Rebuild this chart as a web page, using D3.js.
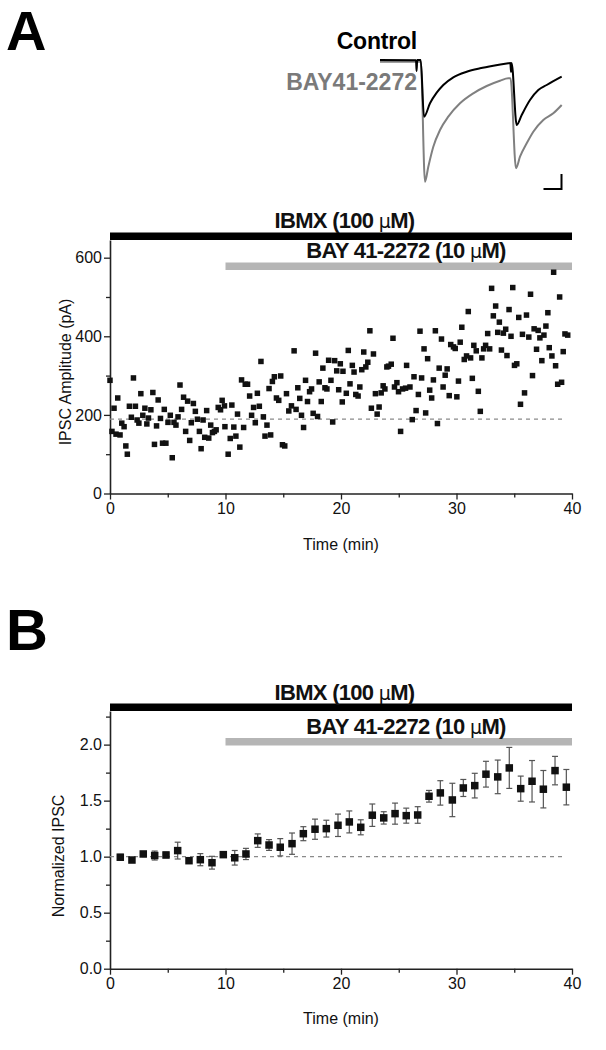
<!DOCTYPE html>
<html><head><meta charset="utf-8">
<script src="https://cdn.jsdelivr.net/npm/d3@7"></script>
<style>
html,body{margin:0;padding:0;background:#fff;}
svg{display:block;}
text{font-family:"Liberation Sans",Arial,sans-serif;}
</style>
</head><body>
<svg id="c" width="606" height="1050"></svg>
<script>
// ---------- DATA ----------
// Panel A: individual IPSC amplitudes (time in min, amplitude in pA)
const timeA = [0.0,0.17,0.35,0.52,0.67,0.87,1.02,1.22,1.37,1.50,1.68,1.85,2.03,2.20,2.35,2.50,2.67,2.84,3.02,3.19,3.33,3.54,3.71,3.85,4.03,4.17,4.37,4.55,4.70,4.84,5.02,5.22,5.39,5.54,5.71,5.89,6.06,6.20,6.37,6.55,6.72,6.90,7.04,7.22,7.39,7.57,7.74,7.89,8.06,8.20,8.37,8.55,8.72,8.87,9.04,9.19,9.37,9.57,9.71,9.91,9.95,
10.23,10.41,10.55,10.72,10.90,11.04,11.24,11.39,11.57,11.71,11.91,12.09,12.26,12.43,12.58,12.76,12.93,13.07,13.28,13.42,13.59,13.77,13.91,14.06,14.23,14.41,14.61,14.78,14.93,15.13,15.28,15.48,15.71,15.94,16.11,16.26,16.43,16.58,16.76,16.93,17.10,17.28,17.45,17.59,17.80,17.97,18.11,18.29,18.43,18.61,18.78,18.93,19.13,19.28,19.45,19.63,19.80,19.94,20.11,20.17,
20.46,20.63,20.78,20.98,21.13,21.28,21.48,21.63,21.80,21.97,22.15,22.32,22.50,22.63,22.81,22.98,23.13,23.30,23.48,23.65,23.80,23.97,24.11,24.35,24.50,24.63,24.84,24.98,25.16,25.33,25.59,25.68,25.97,26.17,26.32,26.50,26.70,26.84,26.98,27.19,27.33,27.50,27.68,27.85,28.00,28.17,28.35,28.50,28.70,28.84,29.02,29.19,29.37,29.50,29.74,29.89,30.03,30.17,30.32,30.46,
30.67,30.87,31.02,31.22,31.37,31.50,31.71,31.89,32.06,32.20,32.35,32.52,32.70,32.87,33.04,33.19,33.39,33.57,33.71,33.89,34.06,34.26,34.37,34.55,34.72,34.87,35.02,35.22,35.39,35.54,35.71,35.89,36.06,36.26,36.41,36.58,36.72,36.93,37.07,37.22,37.39,37.57,37.74,37.91,38.03,38.26,38.41,38.58,38.76,38.93,39.10,39.24,39.39,39.63];
const ampA = [288,158,217,151,243,149,179,170,121,100,222,194,294,222,187,179,254,199,217,177,192,213,257,125,172,238,191,128,214,128,181,199,91,181,174,195,276,214,245,158,235,135,180,229,209,189,158,114,187,143,211,141,174,155,158,162,219,213,237,223,170,
100,140,225,169,146,202,118,289,168,278,278,248,199,219,180,255,222,336,195,146,174,267,149,285,297,243,237,299,124,121,254,210,223,363,214,269,242,199,168,288,234,259,266,204,357,196,284,234,319,269,266,339,288,182,338,312,264,330,233,311,
255,364,279,326,309,252,248,271,315,360,322,334,414,217,355,254,202,220,256,274,266,322,324,329,395,271,282,259,158,266,268,326,271,188,297,211,252,413,294,368,205,343,263,243,289,414,178,319,393,271,301,317,249,379,373,369,246,286,385,423,
341,350,463,345,293,377,363,260,209,345,368,377,407,368,522,452,477,410,436,365,408,418,351,468,400,524,326,330,448,227,405,256,454,398,507,300,419,367,415,396,338,403,426,460,371,350,563,325,278,500,283,361,406,403];
const baselineA = 189;   // dashed reference (pA)

// Panel B: normalized IPSC (mean ± SEM), 1-min bins
const timeB = [0.89,1.90,2.88,3.87,4.85,5.86,6.84,7.82,8.83,9.81,10.80,11.77,12.79,13.77,14.74,15.76,16.74,17.75,18.73,19.74,20.72,21.71,22.71,23.70,24.68,25.65,26.64,27.62,28.60,29.64,30.59,31.58,32.55,33.57,34.57,35.56,36.54,37.52,38.53,39.51];
const normB = [0.995,0.97,1.024,1.01,1.015,1.054,0.964,0.973,0.946,1.018,0.99,1.024,1.143,1.104,1.084,1.116,1.205,1.245,1.25,1.28,1.31,1.262,1.37,1.346,1.384,1.366,1.372,1.539,1.569,1.506,1.613,1.634,1.736,1.712,1.792,1.607,1.673,1.602,1.768,1.62];
const semB = [0.025,0.02,0.02,0.04,0.025,0.075,0.02,0.054,0.057,0.02,0.065,0.05,0.06,0.048,0.077,0.095,0.0625,0.09,0.075,0.10,0.098,0.067,0.10,0.055,0.094,0.067,0.074,0.052,0.109,0.149,0.076,0.11,0.115,0.15,0.183,0.112,0.185,0.167,0.127,0.158];
const baselineB = 1.0;

// Axis ticks
const xTicks = [0,10,20,30,40], xMinor = [5,15,25,35];
const yTicksA = [0,200,400,600], yMinorA = [100,300,500];
const yTicksB = [0,0.5,1.0,1.5,2.0], yMinorB = [0.25,0.75,1.25,1.75,2.25];

// Drug application bars (min)
const drugLabels = ["IBMX (100 ", "BAY 41-2272 (10 "];
const drugStart = [0, 10];
const drugEnd = [40, 40];

// Example traces (time in ms, current in pA)
const traceControl = [[0,0],[36,-3],[36.6,-110],[37.2,0],[40.7,0],[44,-567],[50,-433],[56.7,-327],[63.3,-250],[73.3,-173],[86.7,-117],[100,-83],[113.3,-57],[128.3,-33],[130.4,-30],[131,-120],[131.6,-30],[136.7,-650],[141.7,-550],[150,-400],[158.3,-300],[166.7,-250],[181.7,-167]];
const traceBAY = [[0,-17],[40.8,-17],[45,-1217],[48.3,-1067],[53.3,-867],[60,-700],[68.3,-567],[80,-433],[93.3,-333],[106.7,-260],[120,-207],[128.3,-183],[130.5,-183],[136,-1083],[140,-967],[146.7,-833],[153.3,-717],[163.3,-600],[173.3,-533],[181.7,-450]];
const scaleBarMs = 18, scaleBarPA = 150;

// ---------- DRAW ----------
const svg = d3.select("#c");
const FONT = '"Liberation Sans",Arial,sans-serif';

// panel letters
svg.append("text").attr("x",6).attr("y",50).attr("font-size",56).attr("font-weight","bold").text("A");
svg.append("text").attr("x",6).attr("y",650).attr("font-size",58).attr("font-weight","bold").text("B");

// ---- traces ----
const xT = d3.scaleLinear([0,182],[380,562]);
const yT = d3.scaleLinear([0,-1300],[60,190]);
const tline = d3.line().x(d=>xT(d[0])).y(d=>yT(d[1])).curve(d3.curveMonotoneX);
svg.append("path").attr("d",tline(traceBAY)).attr("fill","none").attr("stroke","#808080").attr("stroke-width",2);
svg.append("path").attr("d",tline(traceControl)).attr("fill","none").attr("stroke","#000").attr("stroke-width",2);
svg.append("text").attr("x",417).attr("y",49).attr("text-anchor","end").attr("font-size",23).attr("font-weight","bold").attr("letter-spacing",-0.2).text("Control");
svg.append("text").attr("x",417).attr("y",90).attr("text-anchor","end").attr("font-size",23).attr("font-weight","bold").attr("fill","#7a7a7a").text("BAY41-2272");
// scale bar
const sbx = 181.5, sby = -1140;
svg.append("path").attr("fill","none").attr("stroke","#000").attr("stroke-width",2)
  .attr("d",`M${xT(sbx)},${yT(sby)} V${yT(sby-scaleBarPA)} H${xT(sbx-scaleBarMs)}`);

// ---- generic panel ----
function panel(cfg){
  const g = svg.append("g");
  g.append("g").attr("transform",`translate(0,${cfg.y.range()[0]})`)
    .call(d3.axisBottom(cfg.x).tickValues(xTicks).tickSize(6).tickSizeOuter(0).tickPadding(3).tickFormat(d3.format("d")));
  g.append("g").attr("transform",`translate(0,${cfg.y.range()[0]})`)
    .call(d3.axisBottom(cfg.x).tickValues(xMinor).tickSize(4).tickFormat("")).select(".domain").remove();
  g.append("g").attr("transform",`translate(${cfg.x.range()[0]},0)`)
    .call(d3.axisLeft(cfg.y).tickValues(cfg.yTicks).tickSize(6).tickSizeOuter(0).tickPadding(2).tickFormat(cfg.fmt));
  g.append("g").attr("transform",`translate(${cfg.x.range()[0]},0)`)
    .call(d3.axisLeft(cfg.y).tickValues(cfg.yMinor).tickSize(4).tickFormat("")).select(".domain").remove();
  g.selectAll(".domain").attr("stroke","#222").attr("stroke-width",1.6);
  g.selectAll(".tick line").attr("stroke","#222").attr("stroke-width",1.3);
  g.selectAll(".tick text").attr("font-size",16).attr("font-family",FONT).attr("fill","#111");
  // axis titles
  g.append("text").attr("x",(cfg.x.range()[0]+cfg.x.range()[1])/2).attr("y",cfg.xTitleY)
    .attr("text-anchor","middle").attr("font-size",16).attr("fill","#111").text("Time (min)");
  g.append("text").attr("transform",`translate(${cfg.yTitleX},${cfg.yTitleY}) rotate(-90)`)
    .attr("text-anchor","middle").attr("font-size",16).attr("fill","#111").text(cfg.yTitle);
  // dashed baseline
  g.append("line").attr("x1",cfg.x(0)).attr("x2",cfg.x(39.3)).attr("y1",cfg.y(cfg.base)).attr("y2",cfg.y(cfg.base))
    .attr("stroke","#8a8a8a").attr("stroke-width",1.2).attr("stroke-dasharray","4,4");
  // drug bars
  const barColors = ["#000","#b5b5b5"];
  drugLabels.forEach((lab,i)=>{
    g.append("rect").attr("x",cfg.x(drugStart[i])).attr("width",cfg.x(drugEnd[i])-cfg.x(drugStart[i]))
      .attr("y",cfg.barY[i]).attr("height",7.5).attr("fill",barColors[i]);
    const t = g.append("text").attr("x",cfg.labX[i]).attr("y",cfg.labY[i]).attr("text-anchor","middle")
      .attr("font-size",22).attr("font-weight","bold").attr("letter-spacing",-0.7).attr("fill","#111");
    t.append("tspan").text(lab);
    t.append("tspan").attr("font-weight","normal").attr("font-size",19).attr("font-family","DejaVu Sans").text("\u03BC");
    t.append("tspan").text("M)");
  });
  return g;
}

// Panel A
const xA = d3.scaleLinear([0,40],[110,572]);
const yA = d3.scaleLinear([0,645],[493.5,240]);
const gA = panel({x:xA,y:yA,yTicks:yTicksA,yMinor:yMinorA,fmt:d3.format("d"),
  xTitleY:550,yTitleX:71,yTitleY:372,yTitle:"IPSC Amplitude (pA)",base:baselineA,
  barY:[232.5,262.5],labX:[344.5,406],labY:[228,257.5]});
const sA = 5.5;
gA.selectAll("rect.pt").data(timeA).join("rect").attr("class","pt")
  .attr("x",(d,i)=>xA(d)-sA/2).attr("y",(d,i)=>yA(ampA[i])-sA/2).attr("width",sA).attr("height",sA).attr("fill","#111");

// Panel B
const xB = d3.scaleLinear([0,40],[110,572]);
const yB = d3.scaleLinear([0,2.3],[968.7,711]);
const gB = panel({x:xB,y:yB,yTicks:yTicksB,yMinor:yMinorB,fmt:d3.format(".1f"),
  xTitleY:1024,yTitleX:64,yTitleY:856,yTitle:"Normalized IPSC",base:baselineB,
  barY:[703.5,738],labX:[344.5,406],labY:[699.5,733.5]});
const eb = gB.append("g").attr("stroke","#555").attr("stroke-width",1.2);
timeB.forEach((t,i)=>{
  const x = xB(t), y1 = yB(normB[i]+semB[i]), y0 = yB(normB[i]-semB[i]);
  eb.append("line").attr("x1",x).attr("x2",x).attr("y1",y1).attr("y2",y0);
  eb.append("line").attr("x1",x-3).attr("x2",x+3).attr("y1",y1).attr("y2",y1);
  eb.append("line").attr("x1",x-3).attr("x2",x+3).attr("y1",y0).attr("y2",y0);
});
const sB = 7.5;
gB.selectAll("rect.pt").data(timeB).join("rect").attr("class","pt")
  .attr("x",d=>xB(d)-sB/2).attr("y",(d,i)=>yB(normB[i])-sB/2).attr("width",sB).attr("height",sB).attr("fill","#111");
</script>
</body></html>
